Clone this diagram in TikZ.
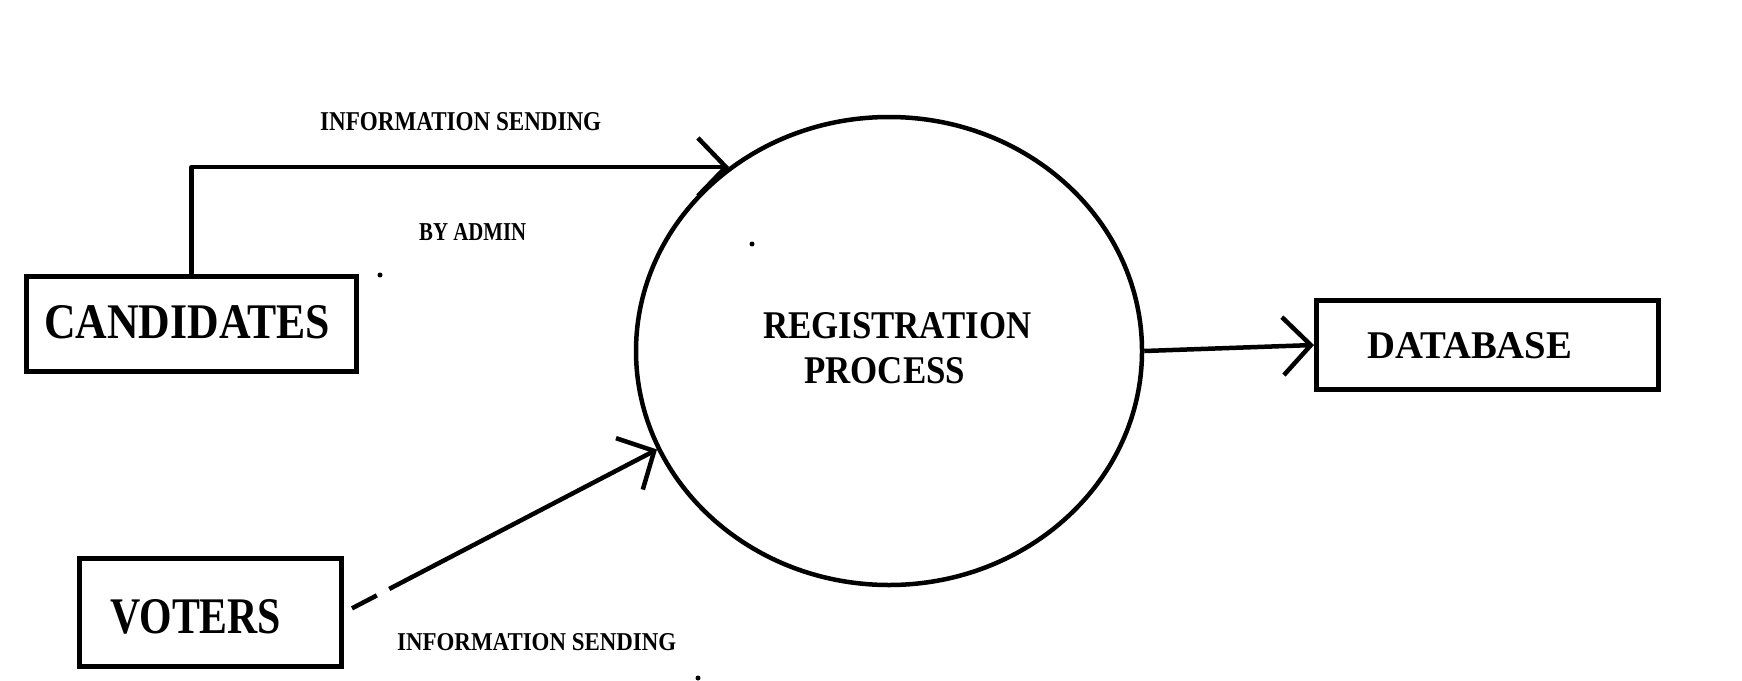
\documentclass[tikz,border=0pt]{standalone}
\usepackage{fontspec}
\setmainfont{Liberation Serif}
\usetikzlibrary{arrows.meta,shapes.geometric}
\newcommand{\fittxt}[3]{\resizebox{#1pt}{#2pt}{\bfseries #3}}
\begin{document}
\begin{tikzpicture}[x=1pt,y=-1pt,
  boxnode/.style={draw, line width=5pt, inner sep=0pt, rectangle},
  procnode/.style={draw, ellipse, line width=4.5pt, inner sep=0pt},
  flow/.style={line width=4.5pt, line join=round, -{Straight Barb[length=28pt,width=58pt]}},
  lbl/.style={inner sep=0pt, anchor=base west},
  dotmark/.style={fill=black}]
\useasboundingbox[fill=white] (0,0) rectangle (1742,680);
% boxes and process
\node[boxnode, minimum width=330pt, minimum height=95pt] (cand) at (191.5,324) {};
\node[boxnode, minimum width=262pt, minimum height=108pt] (vot) at (210.5,612.5) {};
\node[boxnode, minimum width=342pt, minimum height=89pt] (db) at (1487.5,345) {};
\node[procnode, minimum width=506pt, minimum height=468pt] (proc) at (889,351) {};
% texts
\node[lbl] (t1) at (320,130) {\fittxt{281}{18}{INFORMATION SENDING}};
\node[lbl] (t2) at (419,240) {\fittxt{107}{17}{BY ADMIN}};
\node[lbl] (t3) at (44,338) {\fittxt{286}{33}{CANDIDATES}};
\node[lbl] (t4) at (763,338) {\fittxt{268}{26}{REGISTRATION}};
\node[lbl] (t5) at (804,383) {\fittxt{161}{26}{PROCESS}};
\node[lbl] (t6) at (1367,358) {\fittxt{205}{26}{DATABASE}};
\node[lbl] (t7) at (110,633) {\fittxt{171}{34}{VOTERS}};
\node[lbl] (t8) at (397,650) {\fittxt{279}{17}{INFORMATION SENDING}};
% connectors
\draw[flow] (cand.north) |- (proc.131.8);
\draw[flow, shorten <=9pt, dash pattern=on 28pt off 14pt on 1000pt] (vot.east) -- (proc.203.1);
\draw[flow] (proc.east) -- (db.west);
% stray dots
\fill[dotmark] (380,275) circle (2.5pt);
\fill[dotmark] (752,244) circle (2.5pt);
\fill[dotmark] (698,678) circle (2.5pt);
\end{tikzpicture}
\end{document}
